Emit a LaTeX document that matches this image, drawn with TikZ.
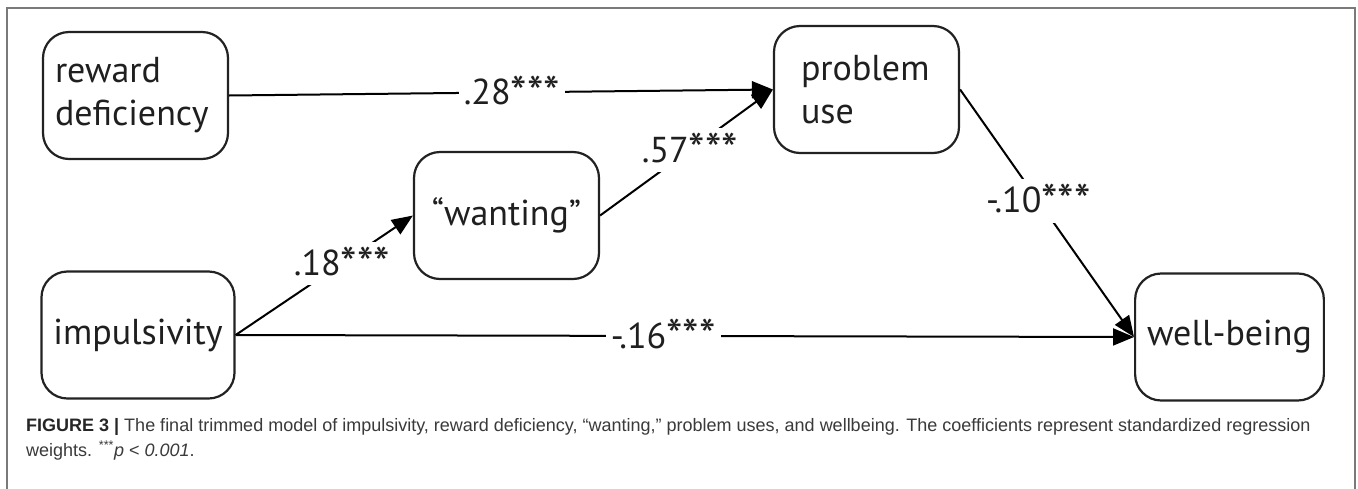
\documentclass[tikz,border=0pt]{standalone}
\usepackage{fontspec}
\setmainfont{PT Sans}
\newfontfamily\capfont{Liberation Sans}
\usetikzlibrary{arrows.meta}
\definecolor{framegray}{HTML}{7A7A7A}
\definecolor{boxline}{HTML}{222222}
\definecolor{captext}{HTML}{3A3A3A}
\newcommand{\stars}{\raisebox{-0.13em}{\scalebox{1.3}{***}}}
\tikzset{
  var/.style={draw=boxline, line width=2.2pt, rounded corners=26pt,
    minimum width=185pt, minimum height=127pt, inner xsep=12pt,
    font=\fontsize{36}{43}\selectfont, text=black!88},
  path/.style={line width=2pt, -{Triangle[length=21pt,width=17pt]}},
  coef/.style={fill=white, inner sep=5pt, font=\fontsize{36}{40}\selectfont, text=black!88},
  capline/.style={anchor=base west, inner sep=0pt, font=\capfont\fontsize{18}{24}\selectfont, text=captext}
}
\begin{document}
\begin{tikzpicture}[x=1pt,y=-1pt]
\useasboundingbox (0,0) rectangle (1358,488);
\fill[white] (0,0) rectangle (1358,488);
\draw[framegray, line width=1.6pt] (7,490) -- (7,8) -- (1355,8) -- (1355,490);

\node[var, text width=161pt, align=left] (rd) at (135.5,95.5) {reward\\deficiency};
\node[var, text width=161pt, align=left] (pu) at (866.5,89.5) {\hspace*{15pt}problem\\\hspace*{15pt}use};
\node[var] (want) at (506.5,215.5) {\char"201C wanting\char"201D};
\node[var] (imp) at (138,335) {impulsivity};
\node[var] (wb) at (1229.5,337) {well-being};

\draw[path] (rd.east) -- node[coef, pos=0.52] {.28\stars} (pu.west);
\draw[path] (imp.east) -- node[coef, pos=0.6] {.18\stars} (want.west);
\draw[path] (want.east) -- node[coef, pos=0.52] {.57\stars} (pu.west);
\draw[path] (pu.east) -- node[coef, pos=0.45] {-.10\stars} (wb.west);
\draw[path] (imp.east) -- node[coef, pos=0.476] {-.16\stars} (wb.west);

\node[capline] (cap1) at (26,431)
{{\bfseries\color{black!85}FIGURE 3 |} The final trimmed model of impulsivity, reward deficiency, \char"201C wanting,\char"201D\ problem uses, and wellbeing. The coefficients represent standardized regression};
\node[capline] (cap2) at (26,456)
{weights. \textsuperscript{***}\textit{p} < \textit{0.001}.};
\end{tikzpicture}
\end{document}
